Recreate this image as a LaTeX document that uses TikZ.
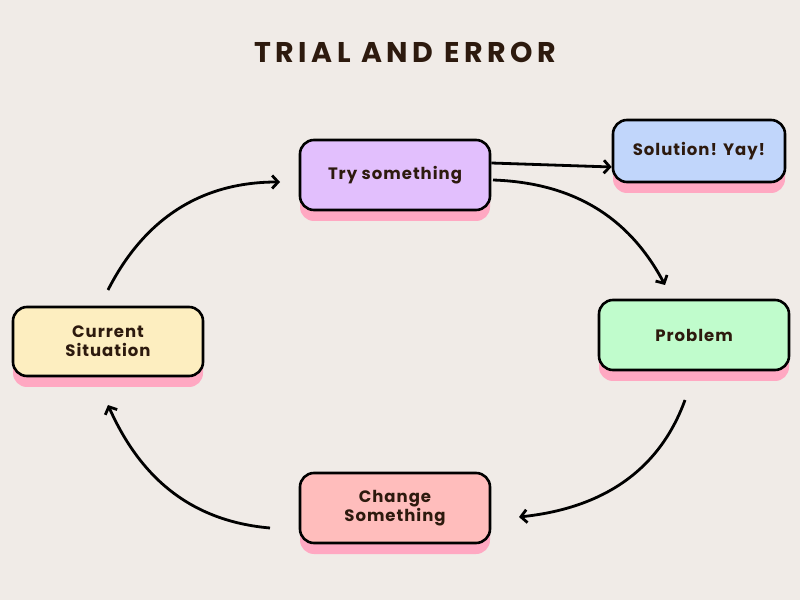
\documentclass[tikz,border=0pt]{standalone}
\usepackage{fontspec}
\setmainfont{Poppins}
\newfontfamily\titlefont[LetterSpace=16]{Poppins}
\newfontfamily\labelfont[LetterSpace=6]{Poppins}
\usetikzlibrary{arrows.meta,shadows}
\definecolor{bg}{HTML}{F0EBE7}
\definecolor{ink}{HTML}{2D1A0E}
\definecolor{shade}{HTML}{FFA8C2}
\definecolor{cTry}{HTML}{E2BFFD}
\definecolor{cSol}{HTML}{C1D6FB}
\definecolor{cCur}{HTML}{FDEEC0}
\definecolor{cChg}{HTML}{FFBDBC}
\definecolor{cPro}{HTML}{C0FCCC}
\tikzset{
  box/.style={draw=black, line width=2.6pt, rounded corners=14pt,
    minimum width=190pt, minimum height=70pt, inner sep=0pt,
    align=center, text=ink, font=\labelfont\bfseries\fontsize{16.5}{19}\selectfont,
    general shadow={fill=shade, shadow yshift=-11pt}},
  conn/.style={line width=2.8pt, black, -{Straight Barb[length=6pt,width=13pt]}},
}
\begin{document}
\begin{tikzpicture}[x=1pt,y=1pt]
\fill[bg] (0,0) rectangle (800,600);
\useasboundingbox (0,0) rectangle (800,600);
\node[text=ink, font=\titlefont\bfseries\fontsize{28.5}{31}\selectfont] (title) at (405,548) {TRIAL AND ERROR};
\node[box, fill=cTry] (try) at (395,425) {Try something};
\node[box, fill=cSol, minimum width=172pt, minimum height=62pt] (sol) at (699,449) {Solution! Yay!};
\node[box, fill=cCur, minimum height=69pt] (cur) at (108,258.5) {Current\\Situation};
\node[box, fill=cChg] (chg) at (395,92) {Change\\Something};
\node[box, fill=cPro] (pro) at (694,265) {Problem};
\coordinate (a2s) at (493,420);
\coordinate (a2e) at (665,315);
\coordinate (a3s) at (685,200);
\coordinate (a3e) at (519,83);
\coordinate (a4s) at (270,72);
\coordinate (a4e) at (108,195);
\coordinate (a5s) at (108,310);
\coordinate (a5e) at (280,418);
\draw[conn] (try.east |- 0,437) -- (sol.west |- 0,433);
\draw[conn] (a2s) to[out=-2,in=118] (a2e);
\draw[conn] (a3s) to[out=-110,in=6] (a3e);
\draw[conn] (a4s) to[out=175,in=-66] (a4e);
\draw[conn] (a5s) to[out=63,in=180] (a5e);
\end{tikzpicture}
\end{document}
